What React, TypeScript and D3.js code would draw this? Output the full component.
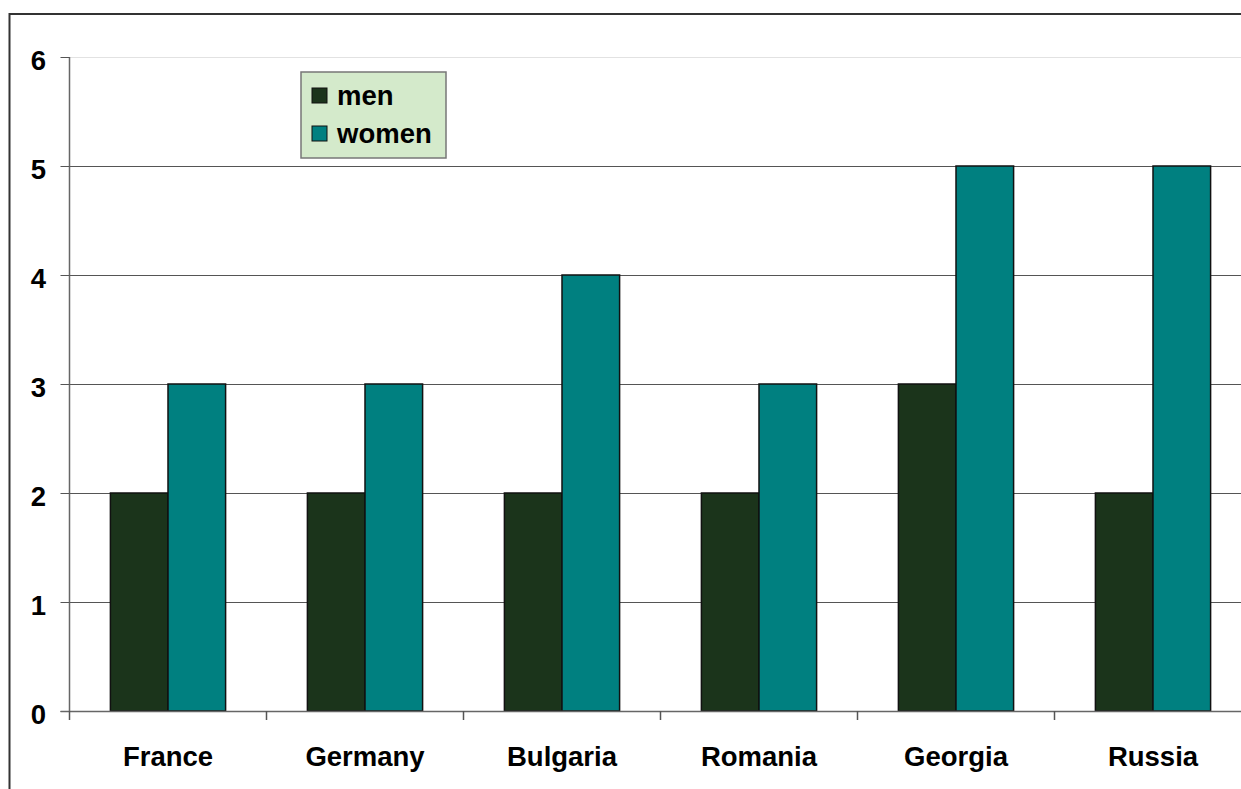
import React, { useEffect, useRef } from "react";
import * as d3 from "d3";

const countries = ["France", "Germany", "Bulgaria", "Romania", "Georgia", "Russia"];
const seriesNames = ["men", "women"];
const menValues = [2, 2, 2, 2, 3, 2];
const womenValues = [3, 3, 4, 3, 5, 5];
const yTicks = [0, 1, 2, 3, 4, 5, 6];

const colors: Record<string, string> = { men: "#1b341b", women: "#008080" };

const App: React.FC = () => {
  const svgRef = useRef<SVGSVGElement>(null);

  useEffect(() => {
    if (!svgRef.current) return;
    const svg = d3.select(svgRef.current);
    svg.selectAll("*").remove();

    const font = "'Liberation Sans', Arial, sans-serif";
    const fontSize = 27.5;

    // plot bounds (page coordinates)
    const left = 69.5;
    const top = 57;
    const bottom = 711;
    const right = 1251.5;

    const x = d3.scaleBand<string>().domain(countries).range([left, right]).paddingInner(0);
    const x1 = d3
      .scaleBand<string>()
      .domain(seriesNames)
      .range([0, x.bandwidth()])
      .paddingInner(0)
      .paddingOuter(0.71);
    const y = d3.scaleLinear().domain([0, 6]).range([bottom, top]);

    // outer frame: only top and left edges are visible
    svg
      .append("path")
      .attr("d", "M9.5,800V14H1260")
      .attr("fill", "none")
      .attr("stroke", "#333")
      .attr("stroke-width", 2);

    // gridlines
    svg
      .append("g")
      .selectAll("line")
      .data(yTicks.filter((d) => d > 0))
      .join("line")
      .attr("x1", left)
      .attr("x2", right)
      .attr("y1", (d) => Math.round(y(d)) + 0.5)
      .attr("y2", (d) => Math.round(y(d)) + 0.5)
      .attr("stroke", (d) => (d === 6 ? "#e2e2e2" : "#555"))
      .attr("stroke-width", 1);

    // y axis line and ticks
    svg
      .append("line")
      .attr("x1", left)
      .attr("x2", left)
      .attr("y1", top)
      .attr("y2", bottom)
      .attr("stroke", "#666")
      .attr("stroke-width", 1.5);
    svg
      .append("g")
      .selectAll("line")
      .data(yTicks)
      .join("line")
      .attr("x1", left - 9)
      .attr("x2", left)
      .attr("y1", (d) => Math.round(y(d)) + 0.5)
      .attr("y2", (d) => Math.round(y(d)) + 0.5)
      .attr("stroke", "#555");
    svg
      .append("g")
      .selectAll("text")
      .data(yTicks)
      .join("text")
      .attr("x", 46)
      .attr("y", (d) => y(d) + 13)
      .attr("text-anchor", "end")
      .attr("font-family", font)
      .attr("font-weight", "bold")
      .attr("font-size", fontSize)
      .text((d) => d);

    // bars
    const rows = countries.map((c, i) => ({ country: c, men: menValues[i], women: womenValues[i] }));
    svg
      .append("g")
      .selectAll("g")
      .data(rows)
      .join("g")
      .attr("transform", (d) => `translate(${x(d.country)},0)`)
      .selectAll("rect")
      .data((d) => seriesNames.map((s) => ({ key: s, value: (d as any)[s] as number })))
      .join("rect")
      .attr("x", (d) => x1(d.key)!)
      .attr("y", (d) => y(d.value))
      .attr("width", x1.bandwidth())
      .attr("height", (d) => y(0) - y(d.value))
      .attr("fill", (d) => colors[d.key])
      .attr("stroke", "#111")
      .attr("stroke-width", 1.5);

    // x axis line and ticks
    svg
      .append("line")
      .attr("x1", left - 9)
      .attr("x2", right)
      .attr("y1", bottom + 0.5)
      .attr("y2", bottom + 0.5)
      .attr("stroke", "#666")
      .attr("stroke-width", 1.5);
    svg
      .append("g")
      .selectAll("line")
      .data(countries)
      .join("line")
      .attr("x1", (d) => x(d)!)
      .attr("x2", (d) => x(d)!)
      .attr("y1", bottom)
      .attr("y2", bottom + 9)
      .attr("stroke", "#555")
      .attr("stroke-width", 1.5);
    svg
      .append("g")
      .selectAll("text")
      .data(countries)
      .join("text")
      .attr("x", (d) => x(d)! + x.bandwidth() / 2)
      .attr("y", 766)
      .attr("text-anchor", "middle")
      .attr("font-family", font)
      .attr("font-weight", "bold")
      .attr("font-size", fontSize)
      .text((d) => d);

    // legend
    const legend = svg.append("g").attr("transform", "translate(301,72)");
    legend
      .append("rect")
      .attr("width", 145)
      .attr("height", 86)
      .attr("fill", "#d4eacb")
      .attr("stroke", "#777")
      .attr("stroke-width", 1.5);
    const items = legend
      .selectAll("g")
      .data(seriesNames)
      .join("g")
      .attr("transform", (d, i) => `translate(11,${16 + i * 38})`);
    items
      .append("rect")
      .attr("width", 15)
      .attr("height", 15)
      .attr("fill", (d) => colors[d])
      .attr("stroke", "#111")
      .attr("stroke-width", 1);
    items
      .append("text")
      .attr("x", 25)
      .attr("y", 17)
      .attr("font-family", font)
      .attr("font-weight", "bold")
      .attr("font-size", fontSize)
      .text((d) => d);
  }, []);

  return (
    <svg
      ref={svgRef}
      width={1241}
      height={789}
      style={{ position: "absolute", left: 0, top: 0, display: "block" }}
    ></svg>
  );
};

export default App;
